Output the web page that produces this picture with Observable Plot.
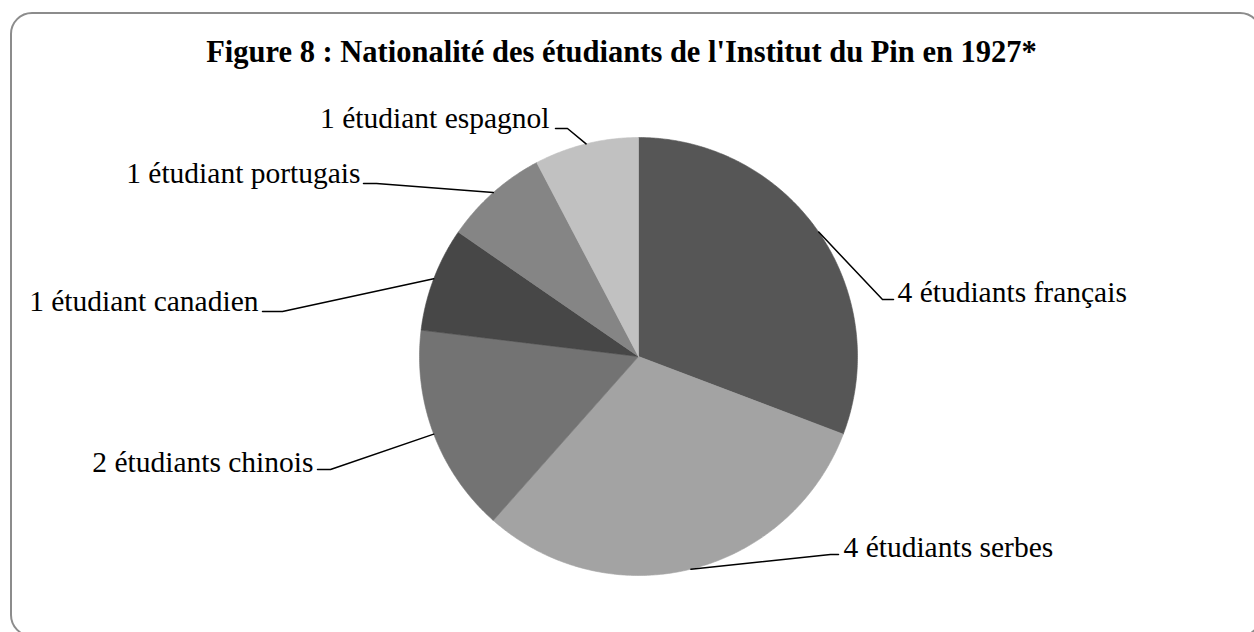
<!DOCTYPE html>
<html><head><meta charset="utf-8">
<script src="https://cdn.jsdelivr.net/npm/d3@7"></script>
<script src="https://cdn.jsdelivr.net/npm/@observablehq/plot@0.6"></script>
<style>
html,body{margin:0;padding:0;background:#fff;overflow:hidden;width:1254px;height:632px;}
#frame{position:absolute;left:10px;top:12px;width:1252px;height:625px;box-sizing:border-box;border:2px solid #8c8c8c;border-radius:22px;}
#title{position:absolute;left:0;top:35px;width:1243px;text-align:center;font-family:"Liberation Serif","Times New Roman",serif;font-weight:bold;font-size:30.5px;line-height:34px;color:#000;}
#chart{position:absolute;left:0;top:80px;font-family:"Liberation Serif","Times New Roman",serif;}
</style></head><body>
<div id="frame"></div>
<div id="title">Figure 8 : Nationalité des étudiants de l'Institut du Pin en 1927*</div>
<div id="chart"></div>
<script>
// ---- data ----
const categories = ["français", "serbes", "chinois", "canadien", "portugais", "espagnol"];
const counts = [4, 4, 2, 1, 1, 1];
const labels = ["4 étudiants français", "4 étudiants serbes", "2 étudiants chinois",
                "1 étudiant canadien", "1 étudiant portugais", "1 étudiant espagnol"];

// ---- styles / layout (kept apart from the data) ----
const colors = ["#565656", "#a3a3a3", "#737373", "#474747", "#858585", "#c1c1c1"];
const SERIF = "'Liberation Serif', 'Times New Roman', serif";
const W = 1254, H = 552;
const CX = 638, CY = 276, R = 219;
// label layout: elbow of leader, tail of leader, text anchor (svg pixels)
const elbows = [[882, 219], [830, 474], [330, 389], [282, 231], [376, 103], [567, 48]];
const tails  = [[893, 219], [838, 474], [317, 389], [262, 231], [363, 103], [555, 48]];
const textPos = [[897, 221], [843, 476], [313, 391], [258, 230], [360, 102], [549, 47]];
const anchors = ["start", "start", "end", "end", "end", "end"];

// ---- build geometry from the data ----
const total = d3.sum(counts);
let acc = 0;
const slices = categories.map((c, i) => {
  const a0 = acc / total * 2 * Math.PI;
  acc += counts[i];
  const a1 = acc / total * 2 * Math.PI;
  const pts = [{x: CX, y: CY}];
  const n = Math.max(8, Math.ceil((a1 - a0) / (Math.PI / 360)));
  for (let k = 0; k <= n; k++) {
    const a = a0 + (a1 - a0) * k / n;
    pts.push({x: CX + R * Math.sin(a), y: CY - R * Math.cos(a)});
  }
  pts.push({x: CX, y: CY});
  const am = (a0 + a1) / 2;
  return {cat: c, color: colors[i], pts, mid: {x: CX + R * Math.sin(am), y: CY - R * Math.cos(am)}};
});

const leaders = slices.map((s, i) => [
  {x: s.mid.x, y: s.mid.y},
  {x: elbows[i][0], y: elbows[i][1]},
  {x: tails[i][0], y: tails[i][1]}
]);

const textRows = labels.map((t, i) => ({text: t, x: textPos[i][0], y: textPos[i][1], anchor: anchors[i]}));

const marks = [];
slices.forEach(s => {
  marks.push(Plot.line(s.pts, {x: "x", y: "y", fill: s.color, stroke: s.color, strokeWidth: 0.6}));
});
leaders.forEach(l => {
  marks.push(Plot.line(l, {x: "x", y: "y", stroke: "#000", strokeWidth: 1.5}));
});
["start", "end"].forEach(anc => {
  marks.push(Plot.text(textRows.filter(d => d.anchor === anc), {
    x: "x", y: "y", text: "text", textAnchor: anc, lineAnchor: "bottom",
    fontSize: 29.5, fontFamily: SERIF, fill: "#000"
  }));
});

const chart = Plot.plot({
  width: W, height: H, margin: 0,
  x: {type: "linear", domain: [0, W], range: [0, W], axis: null},
  y: {type: "linear", domain: [0, H], range: [0, H], axis: null},
  style: {fontFamily: SERIF, background: "transparent", overflow: "visible"},
  marks
});
chart.querySelectorAll("text").forEach(t => {
  t.style.fontFamily = SERIF;
  t.setAttribute("font-family", SERIF);
});
document.getElementById("chart").appendChild(chart);
</script>
</body></html>
